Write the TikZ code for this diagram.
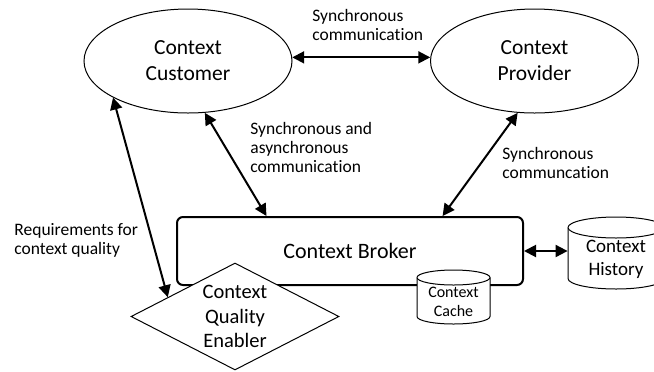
\documentclass[tikz,border=0pt]{standalone}
\usepackage{fontspec}
\setmainfont{Carlito}[Ligatures={NoCommon}]
\usetikzlibrary{shapes.geometric,arrows.meta,calc}
\newcommand{\drawcyl}[5]{%
  \pgfmathsetmacro\cylrx{(#3-#1)/2}%
  \draw[cylline] (#1,#2+#5) -- (#1,#4-#5)
    arc[start angle=180,end angle=0,x radius=\cylrx,y radius=#5]
    -- (#3,#2+#5)
    arc[start angle=0,end angle=-180,x radius=\cylrx,y radius=#5] -- cycle;
  \draw[cylline] (#1,#2+#5) arc[start angle=180,end angle=0,x radius=\cylrx,y radius=#5];
}
\begin{document}
\begin{tikzpicture}[x=0.5pt,y=-0.5pt,
  ell/.style={ellipse,draw,line width=0.5pt,minimum width=104pt,minimum height=52pt,
    inner sep=0pt,align=center,font=\fontsize{10.75}{13}\selectfont},
  brk/.style={draw,line width=1pt,rounded corners=3pt,minimum width=173pt,
    minimum height=34pt,inner sep=0pt,font=\fontsize{11}{13}\selectfont},
  dia/.style={diamond,draw,fill=white,line width=0.5pt,aspect=2,minimum width=104pt,
    minimum height=53.5pt,inner sep=0pt,align=center,font=\fontsize{10.25}{12.25}\selectfont},
  cylline/.style={draw,fill=white,line width=0.5pt},
  cyltext/.style={inner sep=0pt,align=center},
  lbl/.style={anchor=north west,inner sep=0pt,align=left,font=\fontsize{8.75}{9.5}\selectfont},
  arr/.style={line width=1pt,{Triangle[length=6pt,width=6pt]}-{Triangle[length=6pt,width=6pt]}}]
\useasboundingbox (0,0) rectangle (654,371);

\node[ell] (cust) at (188,61) {Context\\Customer};
\node[ell] (prov) at (534.5,61) {Context\\Provider};

\node[brk] (broker) at (350,251) {Context Broker};
\node[dia] (qual) at (235,316.5) {Context\\Quality\\Enabler};

\drawcyl{417}{270}{490}{324}{7.5}
\node[cyltext,font=\fontsize{8}{9.5}\selectfont] (cache) at (453.5,302) {Context\\Cache};

\drawcyl{568}{217}{664}{289}{10.5}
\node[cyltext,font=\fontsize{9.5}{11.5}\selectfont,minimum width=48pt,minimum height=36pt] (hist) at (616,259.5) {Context\\History};

\draw[arr] (cust.2) -- (prov.178);
\draw[arr] (cust.288) -- ($(broker.north west)!0.26!(broker.north east)$);
\draw[arr] (prov.252) -- ($(broker.north west)!0.766!(broker.north east)$);
\draw[arr] (cust.206.6) -- (qual.164.4);
\draw[arr] (broker.east) -- (broker.east -| hist.west);

\node[lbl] (l1) at (312,9) {Synchronous\\communication};
\node[lbl] (l2) at (250,122) {Synchronous and\\asynchronous\\communication};
\node[lbl] (l3) at (502,147) {Synchronous\\communcation};
\node[lbl] (l4) at (14,223) {Requirements for\\context quality};
\end{tikzpicture}
\end{document}
